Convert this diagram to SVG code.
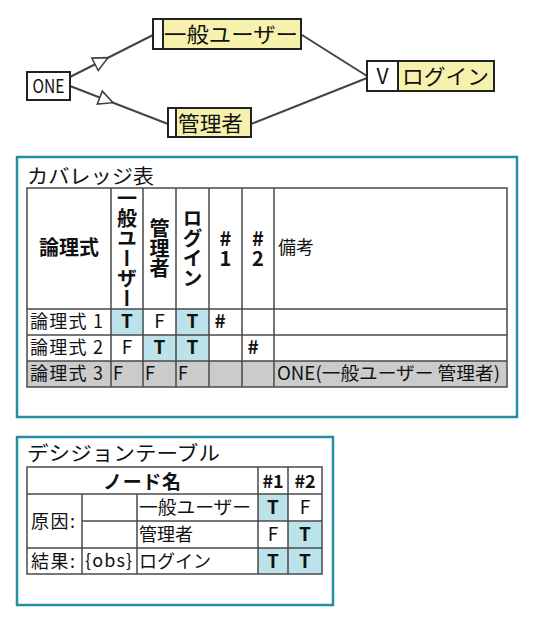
<svg xmlns="http://www.w3.org/2000/svg" width="539" height="622" viewBox="0 0 539 622">
<style>
text{font-family:"Noto Sans CJK JP","Noto Sans",sans-serif;fill:#111}
.node{fill:#f6f2ae;stroke:#222;stroke-width:2}
.strip{fill:#fff;stroke:#222;stroke-width:2}
.edge{stroke:#444;stroke-width:2;fill:none}
.arrow{fill:#fff;stroke:#444;stroke-width:1.6}
.panel{fill:#fff;stroke:#24909e;stroke-width:2.5}
.grid{stroke:#4a4a4a;stroke-width:1.5;fill:none}
.blue{fill:#bde3ea}
.gray{fill:#cbcbcb}
.t{font-weight:bold;font-size:19px;text-anchor:middle}
.f{font-size:19px;text-anchor:middle}
.cell{font-size:18px}
.vert{writing-mode:vertical-rl;text-orientation:upright;font-weight:bold;font-size:20px;text-anchor:middle}
.title{font-size:20px}
</style>
<g id="connectors">
<line class="edge" x1="70" y1="77" x2="153" y2="35"/>
<line class="edge" x1="70" y1="86" x2="168" y2="124"/>
<line class="edge" x1="302" y1="35" x2="367" y2="76"/>
<line class="edge" x1="251" y1="124" x2="367" y2="78"/>
<polygon class="arrow" points="98.2,70.5 91.8,58.1 108,57.7"/>
<polygon class="arrow" points="97.3,104.1 102.3,91.1 112.9,102.7"/>
</g>
<g id="node-one">
<rect x="27" y="72" width="43" height="28" fill="#fff" stroke="#222" stroke-width="2"/>
<text x="48.5" y="93" font-size="19" text-anchor="middle" textLength="32" lengthAdjust="spacingAndGlyphs" font-family="Liberation Sans, sans-serif">ONE</text>
</g>
<g id="node-user">
<rect class="node" x="153" y="19" width="148" height="30"/>
<rect class="strip" x="153" y="19" width="10" height="30"/>
<text x="164" y="42" font-size="21" textLength="134" lengthAdjust="spacingAndGlyphs">一般ユーザー</text>
</g>
<g id="node-admin">
<rect class="node" x="168" y="108" width="83" height="29"/>
<rect class="strip" x="168" y="108" width="8" height="29"/>
<text x="178" y="131" font-size="21" textLength="65" lengthAdjust="spacingAndGlyphs">管理者</text>
</g>
<g id="node-login">
<rect class="node" x="367" y="61" width="127" height="30"/>
<rect class="strip" x="367" y="61" width="31" height="30"/>
<text x="382.5" y="84" font-size="21" text-anchor="middle" font-family="Liberation Sans, sans-serif">V</text>
<text x="402" y="84" font-size="21" textLength="87" lengthAdjust="spacingAndGlyphs">ログイン</text>
</g>
<g id="coverage-table">
<rect class="panel" x="17" y="157" width="500" height="260"/>
<text class="title" x="27" y="184" textLength="127" lengthAdjust="spacingAndGlyphs">カバレッジ表</text>
<rect class="blue" x="111" y="309" width="32" height="26"/>
<rect class="blue" x="176" y="309" width="33" height="26"/>
<rect class="blue" x="143" y="335" width="33" height="26"/>
<rect class="blue" x="176" y="335" width="33" height="26"/>
<rect class="gray" x="27" y="361" width="480" height="26"/>
<rect class="grid" x="27" y="188" width="480" height="199"/>
<path class="grid" d="M111 188V387M143 188V387M176 188V387M209 188V387M242 188V387M274 188V387M27 309H507M27 335H507M27 361H507"/>
<text x="69" y="255" font-size="20" font-weight="bold" text-anchor="middle">論理式</text>
<text class="vert" x="127" y="248.5">一般ユーザー</text>
<text class="vert" x="159.5" y="248.5">管理者</text>
<text class="vert" x="192.5" y="248.5">ログイン</text>
<text class="vert" x="225.5" y="248.5">#1</text>
<text class="vert" x="258" y="248.5">#2</text>
<text x="278" y="254" font-size="18">備考</text>
<text class="cell" x="30" y="328" textLength="73" lengthAdjust="spacing">論理式 1</text>
<text class="cell" x="30" y="354" textLength="73" lengthAdjust="spacing">論理式 2</text>
<text class="cell" x="30" y="380" textLength="73" lengthAdjust="spacing">論理式 3</text>
<text class="t" x="127" y="328">T</text>
<text class="f" x="159.5" y="328">F</text>
<text class="t" x="192.5" y="328">T</text>
<text class="t" x="220" y="328">#</text>
<text class="f" x="127" y="354">F</text>
<text class="t" x="159.5" y="354">T</text>
<text class="t" x="192.5" y="354">T</text>
<text class="t" x="253" y="354">#</text>
<text class="cell" x="113" y="380">F</text>
<text class="cell" x="145" y="380">F</text>
<text class="cell" x="178" y="380">F</text>
<text class="cell" x="277" y="380" textLength="223" lengthAdjust="spacingAndGlyphs">ONE(一般ユーザー 管理者)</text>
</g>
<g id="decision-table">
<rect class="panel" x="17" y="437" width="316" height="168"/>
<text class="title" x="27" y="461" textLength="193" lengthAdjust="spacingAndGlyphs">デシジョンテーブル</text>
<rect class="blue" x="258" y="494" width="30" height="27"/>
<rect class="blue" x="288" y="521" width="34" height="27"/>
<rect class="blue" x="258" y="548" width="30" height="26"/>
<rect class="blue" x="288" y="548" width="34" height="26"/>
<rect class="grid" x="27" y="467" width="295" height="107"/>
<path class="grid" d="M258 467V574M288 467V574M82 494V574M137 494V574M27 494H322M82 521H322M27 548H322"/>
<text x="142" y="489" font-size="19" font-weight="bold" text-anchor="middle" textLength="78" lengthAdjust="spacing">ノード名</text>
<text x="273" y="488" font-size="18" font-weight="bold" text-anchor="middle">#1</text>
<text x="305" y="488" font-size="18" font-weight="bold" text-anchor="middle">#2</text>
<text class="cell" x="31" y="528" font-size="19" textLength="44" lengthAdjust="spacing">原因:</text>
<text class="cell" x="31" y="568" font-size="19" textLength="44" lengthAdjust="spacing">結果:</text>
<text class="cell" x="85" y="567" textLength="47" lengthAdjust="spacing">{obs}</text>
<text class="cell" x="139" y="514" font-size="19" textLength="112" lengthAdjust="spacingAndGlyphs">一般ユーザー</text>
<text class="cell" x="139" y="541" font-size="19" textLength="54" lengthAdjust="spacing">管理者</text>
<text class="cell" x="139" y="568" font-size="19" textLength="72" lengthAdjust="spacing">ログイン</text>
<text class="t" x="273" y="514">T</text>
<text class="f" x="305" y="514">F</text>
<text class="f" x="273" y="541">F</text>
<text class="t" x="305" y="541">T</text>
<text class="t" x="273" y="568">T</text>
<text class="t" x="305" y="568">T</text>
</g>
</svg>
